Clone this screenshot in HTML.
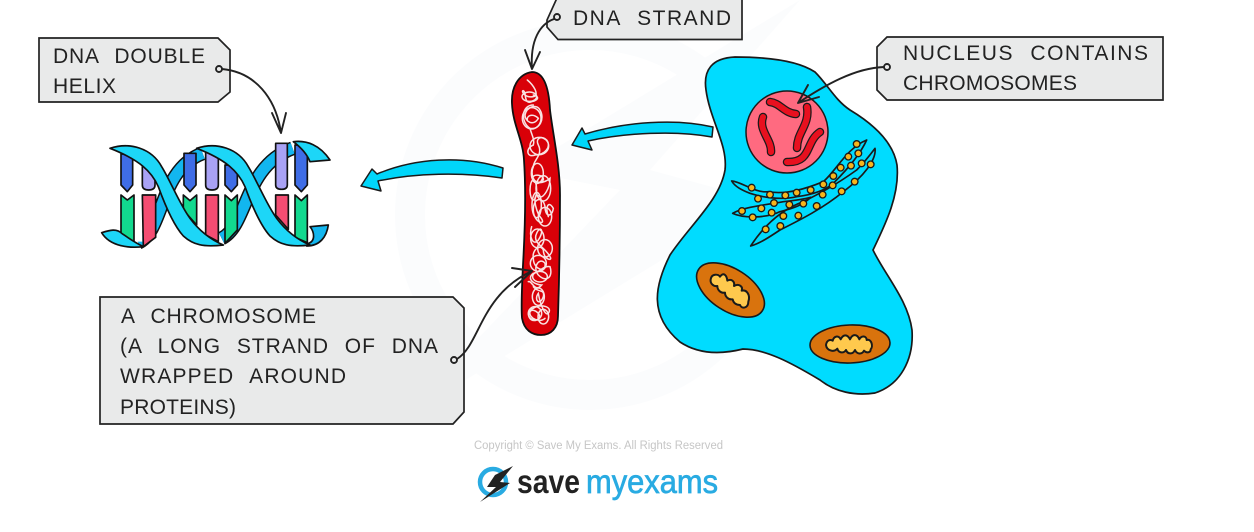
<!DOCTYPE html>
<html>
<head>
<meta charset="utf-8">
<style>
html,body{margin:0;padding:0;background:#fff;width:1254px;height:532px;overflow:hidden}
svg{display:block}
.t{font-family:"Liberation Sans",sans-serif;font-size:21px;fill:#222;word-spacing:9px}
.box{fill:#e9eaea;stroke:#222;stroke-width:1.7}
.c{fill:none;stroke:#222;stroke-width:1.9;stroke-linecap:round;stroke-linejoin:round}
.b{stroke:#111;stroke-width:5;stroke-linejoin:round}
.dot{fill:#e9eaea;stroke:#222;stroke-width:1.9}
</style>
</head>
<body>
<svg width="1254" height="532" viewBox="0 0 1254 532" xmlns="http://www.w3.org/2000/svg">
<rect width="1254" height="532" fill="#fff"/>
<!-- watermark -->
<circle cx="590" cy="215" r="180" fill="none" stroke="#fbfcfd" stroke-width="30"/>
<polygon points="800,0 520,170 620,190 400,420 760,200 650,170" fill="#fbfcfd"/>

<!-- DNA helix -->
<g transform="translate(90,130) scale(.33333)">
  <g fill="none" stroke-linecap="butt">
    <path d="M145,338 C225,300 205,120 338,70 M395,325 C475,285 460,110 608,55" stroke="#111" stroke-width="42"/>
    <path d="M145,338 C225,300 205,120 338,70 M395,325 C475,285 460,110 608,55" stroke="#12b6ef" stroke-width="33"/>
  </g>
  <path class="b" fill="#12b6ef" d="M650,342 C680,335 672,305 660,290 L715,285 C710,320 690,348 650,348Z"/>
  <g class="b">
    <path fill="#fff" stroke="none" d="M132,100H157V335H132Z"/>
    <path fill="#3f6de6" d="M93,72H128V165L112,185L93,165Z"/>
    <path fill="#a9a2f5" d="M157,105H195V165Q195,180 176,180Q157,180 157,165Z"/>
    <path fill="#12d98f" d="M93,195L112,210L132,195V342L93,312Z"/>
    <path fill="#f44d72" d="M157,195H197V322L160,350Z"/>
    <path fill="#3f6de6" d="M282,70H318V165L300,185L282,165Z"/>
    <path fill="#12d98f" d="M280,195L300,212L320,195V285L280,240Z"/>
    <path fill="#a9a2f5" d="M347,62H385V165Q385,180 366,180Q347,180 347,165Z"/>
    <path fill="#f44d72" d="M347,195H385V335L347,315Z"/>
    <path fill="#3f6de6" d="M405,105H442V165L424,185L405,165Z"/>
    <path fill="#12d98f" d="M405,195L424,212L442,195V300L405,340Z"/>
    <path fill="#a9a2f5" d="M557,40H592V165Q592,178 575,178Q557,178 557,165Z"/>
    <path fill="#f44d72" d="M557,195H595V298L557,255Z"/>
    <path fill="#3f6de6" d="M615,45H652V165L634,185L615,165Z"/>
    <path fill="#12d98f" d="M615,195L634,212L652,195V338L615,322Z"/>
  </g>
  <g fill="#1dd6f7" class="b">
    <path d="M35,308 C60,300 80,295 95,310 C110,320 130,335 160,350 C120,355 60,350 35,308Z"/>
    <path id="ra" d="M60,55 C120,35 185,55 215,110 C240,150 270,225 300,265 C330,305 365,330 400,345 C340,352 310,345 280,318 C250,285 225,225 205,170 C185,125 150,90 60,55Z"/>
    <path transform="translate(260,0)" d="M60,55 C120,35 185,55 215,110 C240,150 270,225 300,265 C330,305 365,330 400,345 C340,352 310,345 280,318 C250,285 225,225 205,170 C185,125 150,90 60,55Z"/>
    <path d="M610,35 C650,30 690,45 720,90 L660,95 C650,70 630,50 610,35Z"/>
  </g>
</g>

<!-- Cell -->
<path d="M735,57 C712,58 703,70 706,90 C710,120 728,145 725,170 C720,200 690,225 670,255 C655,285 648,315 680,342 C695,352 715,356 743,349 C765,349 790,362 820,380 C835,392 855,396 875,393 C900,385 914,360 912,330 C908,300 885,275 873,250 C885,225 900,195 897,165 C893,140 870,122 850,110 C835,100 828,85 815,72 C800,62 775,57 735,57Z" fill="#00dcff" stroke="#1a1a1a" stroke-width="1.7"/>
<!-- nucleus -->
<circle cx="787" cy="132" r="41" fill="#ff6a80" stroke="#1a1a1a" stroke-width="1.5"/>
<g fill="none" stroke-linecap="round" stroke-linejoin="round">
  <g stroke="#1a1a1a" stroke-width="8.500">
    <path d="M770,102 C780,103 784,113 796,114"/>
    <path d="M763,117 C758,130 772,140 771,152"/>
    <path d="M807,107 C810,125 797,132 797,148"/>
    <path d="M787,162 C812,163 805,142 820,132"/>
  </g>
  <g stroke="#e8101f" stroke-width="6">
    <path d="M770,102 C780,103 784,113 796,114"/>
    <path d="M763,117 C758,130 772,140 771,152"/>
    <path d="M807,107 C810,125 797,132 797,148"/>
    <path d="M787,162 C812,163 805,142 820,132"/>
  </g>
</g>
<!-- ER -->
<g transform="translate(700,80) scale(.33333)">
  <g fill="none" stroke="#1a1a1a" stroke-width="5" stroke-linejoin="round">
    <path d="M95,303 C125,305 165,340 205,335 C260,345 320,325 370,305 C410,270 440,205 500,180 C480,225 440,270 400,310 C370,335 330,345 290,350 C240,362 180,350 150,340 C125,330 105,320 95,303Z"/>
    <path d="M98,400 C130,380 200,375 250,365 C280,362 310,358 332,352 C310,375 280,385 240,395 C200,415 130,415 98,400Z"/>
    <path d="M152,498 C190,440 240,390 310,365 C350,345 400,320 470,270 C490,250 510,225 525,205 C530,240 490,290 430,335 C370,385 300,420 240,450 C210,470 180,490 152,498Z"/>
  </g>
  <g fill="#f7b51c" stroke="#1a1a1a" stroke-width="4">
    <circle cx="470" cy="192" r="10"/><circle cx="475" cy="220" r="10"/><circle cx="445" cy="230" r="10"/><circle cx="422" cy="263" r="10"/><circle cx="453" cy="257" r="10"/><circle cx="485" cy="250" r="10"/><circle cx="512" cy="253" r="10"/><circle cx="400" cy="288" r="10"/><circle cx="370" cy="313" r="10"/><circle cx="398" cy="316" r="10"/><circle cx="332" cy="330" r="10"/><circle cx="290" cy="338" r="10"/><circle cx="256" cy="346" r="10"/><circle cx="210" cy="344" r="10"/><circle cx="155" cy="323" r="10"/><circle cx="174" cy="356" r="10"/><circle cx="222" cy="369" r="10"/><circle cx="268" cy="374" r="10"/><circle cx="310" cy="371" r="10"/><circle cx="126" cy="393" r="10"/><circle cx="184" cy="385" r="10"/><circle cx="215" cy="398" r="10"/><circle cx="158" cy="412" r="10"/><circle cx="250" cy="408" r="10"/><circle cx="295" cy="407" r="10"/><circle cx="350" cy="378" r="10"/><circle cx="368" cy="344" r="10"/><circle cx="425" cy="334" r="10"/><circle cx="464" cy="305" r="10"/><circle cx="197" cy="448" r="10"/><circle cx="241" cy="438" r="10"/>
  </g>
</g>
<!-- mitochondria -->
<ellipse cx="730.500" cy="290" rx="38" ry="21" transform="rotate(33 730.500 290)" fill="#d9730d" stroke="#1a1a1a" stroke-width="1.6"/>
<ellipse cx="850" cy="344" rx="40" ry="19" transform="rotate(-2 850 344)" fill="#d9730d" stroke="#1a1a1a" stroke-width="1.6"/>
<g transform="translate(680,250) scale(.33333)" fill="#ffc94d" stroke="#1a1a1a" stroke-width="6" stroke-linejoin="round">
  <path d="M92,88 C95,70 115,72 120,80 C130,65 140,75 142,92 C155,85 165,95 162,108 C175,100 190,108 185,122 C200,118 212,135 205,155 C205,175 185,178 180,165 C170,165 160,160 158,148 C145,150 135,140 135,128 C122,130 112,120 112,108 C100,110 90,100 92,88Z"/>
  <path d="M438,285 C440,270 450,268 458,272 C462,258 475,255 482,268 C490,252 502,252 510,268 C518,250 532,252 538,268 C545,255 560,258 560,270 C575,265 580,290 572,298 C572,308 560,310 552,302 C545,315 530,312 525,300 C518,315 502,312 498,300 C490,312 475,308 472,296 C462,308 440,302 438,285Z"/>
</g>

<!-- Chromosome -->
<path d="M532,72 C518,74 511,88 512,104 C513,125 523,140 524,160 C526,190 525,230 523,265 C522,285 521,305 522,318 C524,330 532,335 541,335 C551,335 558,328 558,316 C559,285 560,235 560,195 C560,165 553,135 550,110 C549,90 545,72 532,72Z" fill="#d90008" stroke="#111" stroke-width="1.8"/>
<g transform="translate(490,60) scale(.33333)" fill="none" stroke="#f9e3e3" stroke-width="4.500" stroke-linecap="round">
  <path d="M112,60 C130,75 150,105 130,110 C105,115 92,92 100,92 C110,95 100,135 125,125 C145,120 150,110 130,105 M130,135 C95,135 90,185 120,205 C150,210 165,175 150,150 C140,130 110,140 105,165 C105,185 130,200 145,175 C130,160 110,165 112,180"/>
  <path d="M120,205 C125,225 135,240 130,255 C105,265 110,295 135,285 C165,285 185,260 170,240 C155,225 135,235 145,255 C160,285 130,300 130,320 C120,340 130,375 155,365 C175,350 130,335 128,355 C125,375 165,370 180,355 C180,385 160,415 150,410 C125,390 135,450 150,470 C175,500 130,490 130,450 C130,410 160,410 165,440 C165,470 185,475 190,445 C175,420 165,440 175,470"/>
  <path d="M125,500 C115,530 130,560 145,540 C165,510 150,495 140,520 C125,550 165,560 180,590 C190,605 160,600 160,570 C150,550 125,570 130,595 C130,630 170,640 165,610 C150,590 125,620 145,645 C170,670 190,650 180,620 C160,615 145,640 130,640 C105,660 140,675 155,675 C135,700 125,660 115,665"/>
  <path d="M130,680 C145,700 165,685 160,710 C150,740 130,720 145,700 C150,730 165,770 175,760 C190,740 150,730 130,745 C105,750 115,790 140,780 C165,770 130,740 120,755 C115,775 150,790 165,775"/>
  <ellipse cx="125" cy="175" rx="28" ry="32"/><ellipse cx="118" cy="110" rx="22" ry="14"/><ellipse cx="148" cy="258" rx="28" ry="26"/><ellipse cx="142" cy="340" rx="18" ry="30"/><ellipse cx="160" cy="385" rx="22" ry="38"/><ellipse cx="140" cy="435" rx="14" ry="38"/><ellipse cx="165" cy="470" rx="20" ry="28"/><ellipse cx="142" cy="535" rx="20" ry="28"/><ellipse cx="165" cy="565" rx="22" ry="26"/><ellipse cx="145" cy="610" rx="24" ry="24"/><ellipse cx="150" cy="650" rx="22" ry="16"/><ellipse cx="145" cy="710" rx="18" ry="26"/><ellipse cx="135" cy="760" rx="20" ry="20"/><ellipse cx="160" cy="770" rx="16" ry="22"/><ellipse cx="130" cy="390" rx="10" ry="30"/>
</g>

<!-- Block arrows -->
<path d="M713,127 C675,118 625,122 585,134 L582,128 L572,145 L592,150 L588,141 C625,133 675,130 712,137Z" fill="#00d6fa" stroke="#1a1a1a" stroke-width="1.5" stroke-linejoin="round"/>
<path d="M503,168 C462,155 415,158 377,174 L372,169 L361,186 L381,191 L378,181 C415,173 462,172 502,178Z" fill="#00d6fa" stroke="#1a1a1a" stroke-width="1.5" stroke-linejoin="round"/>

<!-- Labels -->
<polygon class="box" points="39,38 218,38 230,50 230,92 218,102 39,102"/>
<polygon class="box" points="557,-2 742,-2 742,39.500 558,39.500 547,27 547,20"/>
<polygon class="box" points="887,37 1163,37 1163,100 887,100 877,90 877,47"/>
<polygon class="box" points="100,297 453,297 464,308 464,412 453,424 100,424"/>

<text class="t" x="53" y="63" textLength="152" lengthAdjust="spacing">DNA DOUBLE</text>
<text class="t" x="53" y="93" textLength="63" lengthAdjust="spacing">HELIX</text>
<text class="t" x="573" y="25" textLength="158" lengthAdjust="spacing">DNA STRAND</text>
<text class="t" x="903" y="60" textLength="245" lengthAdjust="spacing">NUCLEUS CONTAINS</text>
<text class="t" x="903" y="90" textLength="174" lengthAdjust="spacing">CHROMOSOMES</text>
<text class="t" x="121" y="323" textLength="195" lengthAdjust="spacing">A CHROMOSOME</text>
<text class="t" x="120" y="353" textLength="318" lengthAdjust="spacing">(A LONG STRAND OF DNA</text>
<text class="t" x="120" y="383" textLength="226" lengthAdjust="spacing">WRAPPED AROUND</text>
<text class="t" x="120" y="414" textLength="116" lengthAdjust="spacing">PROTEINS)</text>

<!-- Connectors -->
<path class="c" d="M222,69 C255,72 276,98 281,133 M272,113 L281,133 L286,113"/>
<circle class="dot" cx="219" cy="69" r="3"/>
<path class="c" d="M554,19 C540,24 530,40 532,69 M525,50 L532,69 L540,52"/>
<circle class="dot" cx="557" cy="17" r="3"/>
<path class="c" d="M884,67 C855,68 825,85 798,103 M808,85 L798,103 L819,97"/>
<circle class="dot" cx="887" cy="67" r="3"/>
<path class="c" d="M457,359 C480,345 480,295 532,271 M512,268 L532,271 L515,287"/>
<circle class="dot" cx="454" cy="360" r="3"/>

<!-- Footer -->
<text x="474" y="449" font-family="Liberation Sans, sans-serif" font-size="11.500" fill="#c6c6c6" textLength="249" lengthAdjust="spacingAndGlyphs">Copyright © Save My Exams. All Rights Reserved</text>
<circle cx="493" cy="482" r="13" fill="#fff" stroke="#29abe2" stroke-width="4.500"/>
<polygon points="513,466 495,475 487,487 496,487 480,502 510,483 500,482" fill="#222"/>
<text x="517" y="493" font-family="Liberation Sans, sans-serif" font-size="33" font-weight="bold" fill="#222" textLength="63" lengthAdjust="spacingAndGlyphs">save</text>
<text x="586" y="493" font-family="Liberation Sans, sans-serif" font-size="33" fill="#29abe2" stroke="#29abe2" stroke-width=".7" textLength="132" lengthAdjust="spacingAndGlyphs">myexams</text>
</svg>
</body>
</html>
